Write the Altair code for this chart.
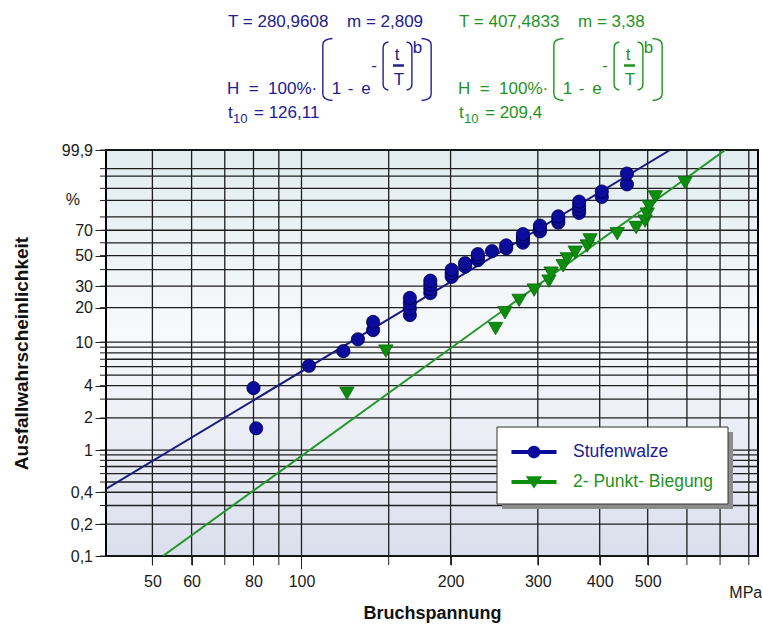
import altair as alt
import numpy as np
import pandas as pd

SERIES = ["Stufenwalze", "2- Punkt- Biegung"]

# Stufenwalze (blue circles): Bruchspannung [MPa] / Ausfallwahrscheinlichkeit [%]
blue_t = [81, 80, 103.5, 121.5, 130, 139.5, 139.5,
          165.5, 165.5, 165.5, 165.5,
          182, 182, 182, 182,
          201, 201, 201,
          214, 214,
          227, 227, 227,
          242.5,
          259, 259,
          280, 280, 280, 280,
          303, 303, 303,
          330, 330, 330,
          363.5, 363.5, 363.5, 363.5,
          404, 404,
          454, 454]
blue_F = [1.6, 3.8, 6.1, 8.3, 10.6, 12.8, 15.1, 17.3, 19.6, 21.8,
          24.1, 26.4, 28.6, 30.9, 33.1, 35.4, 37.6, 39.9, 42.1, 44.4,
          46.6, 48.9, 51.1, 53.4, 55.6, 57.9, 60.1, 62.4, 64.6, 66.9,
          69.1, 71.4, 73.6, 75.9, 78.2, 80.4, 82.7, 84.9, 87.2, 89.4,
          91.7, 93.9, 96.2, 98.4]

# 2- Punkt- Biegung (green triangles)
green_t = [123.5, 148, 246.5, 257.5, 275, 295, 316, 319, 337.5, 344,
           357, 377.5, 382.5, 434, 474, 494, 499, 503.5, 518, 595]
green_F = [3.4, 8.3, 13.2, 18.1, 23.0, 27.9, 32.8, 37.7, 42.6, 47.5,
           52.5, 57.4, 62.3, 67.2, 72.1, 77.0, 81.9, 86.8, 91.7, 96.6]

# fitted Weibull lines (end points)
blue_fit_t = [40.3, 555]
blue_fit_F = [0.43, 99.9]
green_fit_t = [52.5, 717]
green_fit_F = [0.1, 99.9]

# axes
x_domain = [40.3, 835]
x_grid = [50, 60, 70, 80, 90, 100, 150, 200, 300, 400, 500, 600, 700, 800]
x_labelled = [50, 60, 80, 100, 200, 300, 400, 500]
x_long_tick = [100]
x_unit = ["MPa"]
x_unit_at = [800]
y_domain = [0.1, 99.9]
y_grid = [0.1, 0.2, 0.3, 0.4, 0.5, 0.6, 0.7, 0.8, 0.9, 1, 2, 3, 4, 5, 6, 7, 8, 9,
          10, 20, 30, 40, 50, 60, 70, 80, 90, 95, 98, 99, 99.9]
y_labels = {0.1: "0,1", 0.2: "0,2", 0.4: "0,4", 1: "1", 2: "2", 4: "4", 10: "10",
            20: "20", 30: "30", 50: "50", 70: "70", 99.9: "99,9"}
y_unit = ["%"]
y_unit_at = [90]

BLUE = "#20208f"
GREEN = "#1f931f"
FONT = "Liberation Sans"
W, H = 652, 406
OX, OY = 106, 150


def weib(p):
    return float(np.log(-np.log(1 - p / 100.0)))


xscale = alt.Scale(type="log", domain=x_domain, nice=False)
yscale = alt.Scale(domain=[weib(y_domain[0]), weib(y_domain[1])], nice=False, zero=False)

yw = {p: weib(p) for p in y_grid}
lab_expr = ""
for p, s in y_labels.items():
    lab_expr += f"abs(datum.value - ({yw[p]!r})) < 1e-6 ? '{s}' : "
lab_expr += "''"

yaxis = alt.Axis(values=[yw[p] for p in y_labels], grid=False, domain=False,
                 tickColor="#222", tickWidth=1, tickSize=11,
                 labelExpr=lab_expr, labelFont=FONT, labelFontSize=16, labelColor="#1a1a1a",
                 labelPadding=2.5, labelOverlap=False, labelFlush=False,
                 title="Ausfallwahrscheinlichkeit", titleFont=FONT, titleFontSize=19,
                 titleFontWeight="bold", titleColor="#111", titleX=-85, titleY=H / 2,
                 titleAlign="center", titleBaseline="middle")

xaxis = alt.Axis(values=x_labelled, format="d", grid=False, domain=False, tickColor="#222",
                 tickWidth=1, tickSize=9, labelFont=FONT, labelFontSize=16,
                 labelColor="#1a1a1a", labelPadding=8, labelOverlap=False, labelFlush=False,
                 title="Bruchspannung", titleFont=FONT, titleFontSize=18, titleFontWeight="bold",
                 titleColor="#111", titleX=W / 2, titleY=57, titleAlign="center",
                 titleBaseline="middle")


def X(field="t"):
    return alt.X(f"{field}:Q", scale=xscale, axis=xaxis)


def Y(field="w"):
    return alt.Y(f"{field}:Q", scale=yscale, axis=yaxis)


one = alt.Data(values=[{}])

bg = alt.Chart(one).mark_rect(
    fill=alt.Gradient(gradient="linear", x1=0, y1=0, x2=0, y2=1,
                      stops=[alt.GradientStop(color="#e1edf0", offset=0),
                             alt.GradientStop(color="#f7f9fb", offset=0.45),
                             alt.GradientStop(color="#dbdfed", offset=1)]),
    stroke="#000", strokeWidth=2,
).encode(x=alt.value(0), x2=alt.value(W), y=alt.value(0), y2=alt.value(H))

vgrid = alt.Chart(pd.DataFrame({"t": x_grid})).mark_rule(color="#1e1e1e", strokeWidth=1.3).encode(
    x=X())
hgrid = alt.Chart(pd.DataFrame({"w": [yw[p] for p in y_grid]})).mark_rule(
    color="#1e1e1e", strokeWidth=1.3).encode(y=Y())

# short ticks for every grid line
yminor = alt.Chart(pd.DataFrame({"w": [yw[p] for p in y_grid]})).mark_rule(
    color="#222", strokeWidth=1).encode(y=Y(), x=alt.value(-6), x2=alt.value(0))
xminor = alt.Chart(pd.DataFrame({"t": x_grid})).mark_rule(color="#222", strokeWidth=1).encode(
    x=X(), y=alt.value(H), y2=alt.value(H + 9))
xlong = alt.Chart(pd.DataFrame({"t": x_long_tick})).mark_rule(color="#222", strokeWidth=1).encode(
    x=X(), y=alt.value(H), y2=alt.value(H + 13))
yunit = alt.Chart(pd.DataFrame({"w": [weib(p) for p in y_unit_at], "s": y_unit})).mark_text(
    align="right", baseline="middle", font=FONT, fontSize=16, color="#1a1a1a").encode(
    y=Y(), x=alt.value(-26), text="s:N")
xunit = alt.Chart(pd.DataFrame({"t": x_unit_at, "s": x_unit})).mark_text(
    align="center", baseline="middle", font=FONT, fontSize=16, color="#1a1a1a", dx=-3).encode(
    x=X(), y=alt.value(H + 37), text="s:N")

blue_fit = pd.DataFrame({"t": blue_fit_t, "w": [weib(p) for p in blue_fit_F]})
green_fit = pd.DataFrame({"t": green_fit_t, "w": [weib(p) for p in green_fit_F]})
line_b = alt.Chart(blue_fit).mark_line(strokeWidth=2, clip=True, color="#1b1b7d").encode(
    x=X(), y=Y())
line_g = alt.Chart(green_fit).mark_line(strokeWidth=2, clip=True, color="#23962a").encode(
    x=X(), y=Y())

blue_df = pd.DataFrame({"series": SERIES[0], "t": blue_t, "w": [weib(p) for p in blue_F]})
green_df = pd.DataFrame({"series": SERIES[1], "t": green_t, "w": [weib(p) for p in green_F]})

CIRC_LEG = ("M-1.5,-0.13L1.5,-0.13L1.5,0.13L-1.5,0.13Z"
            "M0.42,0A0.42,0.42,0,1,1,-0.42,0A0.42,0.42,0,1,1,0.42,0Z")
TRI_LEG = ("M-1.5,-0.13L1.5,-0.13L1.5,0.13L-1.5,0.13Z"
           "M-0.55,-0.38L0.55,-0.38L0,0.44Z")


def leg(symbol, color, ly):
    return alt.Legend(title=None, orient="none", legendX=413, legendY=ly, direction="vertical",
                      padding=0, symbolSize=900, symbolType=symbol, symbolStrokeWidth=0,
                      symbolOpacity=1, labelOffset=24, labelFont=FONT, labelFontSize=17.5,
                      labelColor=color)


pts_b = alt.Chart(blue_df).mark_point(filled=True, size=175, opacity=1, strokeWidth=0.8,
                                      shape="circle", stroke="#00004a").encode(
    x=X(), y=Y(),
    color=alt.Color("series:N", scale=alt.Scale(domain=[SERIES[0]], range=["#0b0b9c"]),
                    legend=leg(CIRC_LEG, BLUE, 287)))
pts_g = alt.Chart(green_df).mark_point(filled=True, size=205, opacity=1, strokeWidth=0.8,
                                       shape="triangle-down", stroke="#066a06").encode(
    x=X(), y=Y(),
    fill=alt.Fill("series:N", scale=alt.Scale(domain=[SERIES[1]], range=["#0c8e0c"]),
                  legend=leg(TRI_LEG, GREEN, 317)))

# legend frame with shadow
shadow = alt.Chart(one).mark_rect(color="#8c8c8c").encode(
    x=alt.value(396), x2=alt.value(627), y=alt.value(282), y2=alt.value(359))
frame = alt.Chart(one).mark_rect(fill="white", stroke="#333", strokeWidth=1).encode(
    x=alt.value(391), x2=alt.value(622), y=alt.value(277), y2=alt.value(354))


def txt(s, x, y, color, size=17, align="left", baseline="alphabetic"):
    return alt.Chart(one).mark_text(text=s, align=align, baseline=baseline, font=FONT,
                                    fontSize=size, color=color).encode(
        x=alt.value(x - OX), y=alt.value(y - OY))


def sym(path, x, y, height, color):
    return alt.Chart(one).mark_point(shape=path, size=height ** 2, filled=False, stroke=color,
                                     strokeWidth=1.4, opacity=1).encode(
        x=alt.value(x - OX), y=alt.value(y - OY))


def bar(x1, x2, y, color):
    return alt.Chart(one).mark_rule(stroke=color, strokeWidth=2.5).encode(
        x=alt.value(x1 - OX), x2=alt.value(x2 - OX), y=alt.value(y - OY))


BIG_L = "M0.16,-1Q-0.15,-0.98,-0.15,-0.8L-0.15,0.8Q-0.15,0.98,0.16,1"
BIG_R = "M-0.16,-1Q0.15,-0.98,0.15,-0.8L0.15,0.8Q0.15,0.98,-0.16,1"
SM_L = "M0.12,-1Q-0.1,-0.97,-0.1,-0.75L-0.1,0.75Q-0.1,0.97,0.12,1"
SM_R = "M-0.12,-1Q0.1,-0.97,0.1,-0.75L0.1,0.75Q0.1,0.97,-0.12,1"

formula_params = [
    (0, BLUE, "280,9608", "2,809", "126,11"),
    (231, GREEN, "407,4833", "3,38", "209,4"),
]

ann = []
NB = "\u00a0"
for dx, col, T, m, t10 in formula_params:
    ann += [
        txt(f"T = {T}", 228 + dx, 27, col),
        txt(f"m = {m}", 347 + dx, 27, col),
        txt(f"H{NB}{NB}={NB}{NB}100%·", 227 + dx, 94, col),
        sym(BIG_L, 327.5 + dx, 69.5, 62, col),
        txt("1", 336.5 + dx, 94, col, align="center"),
        txt("-", 350.5 + dx, 94, col, align="center"),
        txt("e", 366 + dx, 94, col, align="center"),
        txt("-", 374 + dx, 70.5, col, align="center"),
        sym(SM_L, 385.5 + dx, 66, 48, col),
        txt("t", 397 + dx, 60, col, align="center"),
        bar(393 + dx, 404 + dx, 65.5, col),
        txt("T", 399 + dx, 85, col, align="center"),
        sym(SM_R, 409.5 + dx, 66, 48, col),
        txt("b", 417.5 + dx, 53, col, align="center"),
        sym(BIG_R, 426.5 + dx, 69.5, 62, col),
        txt("t", 228 + dx, 118, col),
        txt("10", 233 + dx, 123, col, size=13),
        txt(f"= {t10}", 254 + dx, 118, col),
    ]

chart = alt.layer(bg, vgrid, hgrid, yminor, xminor, xlong, yunit, xunit, line_b, line_g,
                  pts_b, pts_g, shadow, frame, *ann).resolve_scale(
    color="independent", fill="independent").properties(
    width=W, height=H,
    autosize=alt.AutoSizeParams(type="none"),
    padding={"left": OX, "top": OY, "right": 762 - OX - W, "bottom": 630 - OY - H},
    background="white",
).configure_view(stroke=None).configure(font=FONT)

chart.save("out.html", embed_options={"renderer": "svg", "actions": False})
